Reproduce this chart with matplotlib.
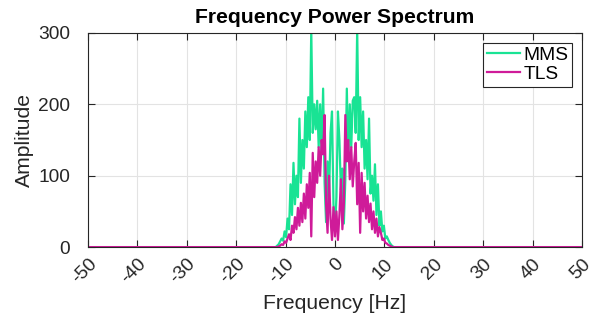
import matplotlib
matplotlib.use("Agg")
import matplotlib.pyplot as plt
import numpy as np

# Frequency grid of the non-zero part (Hz), padded with the flat ends at +-50
freq_core = [
    -12.0, -11.7, -11.4, -11.1, -10.8, -10.5, -10.2, -9.9, -9.6, -9.3,
    -9.0, -8.7, -8.4, -8.1, -7.8, -7.5, -7.2, -6.9, -6.6, -6.3,
    -6.0, -5.7, -5.4, -5.1, -4.8, -4.5, -4.2, -3.9, -3.6, -3.3,
    -3.0, -2.7, -2.4, -2.1, -1.8, -1.5, -1.2, -0.9, -0.6, -0.3,
    0.0, 0.3, 0.6, 0.9, 1.2, 1.5, 1.8, 2.1, 2.4, 2.7,
    3.0, 3.3, 3.6, 3.9, 4.2, 4.5, 4.8, 5.1, 5.4, 5.7,
    6.0, 6.3, 6.6, 6.9, 7.2, 7.5, 7.8, 8.1, 8.4, 8.7,
    9.0, 9.3, 9.6, 9.9, 10.2, 10.5, 10.8, 11.1, 11.4, 11.7,
    12.0,
]

mms_core = [
    0, 2, 4, 8, 12, 9, 22, 14, 40, 25,
    88, 45, 118, 60, 100, 70, 180, 90, 150, 110,
    190, 140, 210, 150, 305, 160, 200, 165, 205, 140,
    200, 130, 222, 90, 35, 120, 70, 160, 190, 60,
    24, 70, 190, 150, 80, 110, 33, 95, 222, 125,
    200, 140, 205, 210, 160, 305, 150, 210, 140, 190,
    110, 150, 95, 180, 75, 100, 65, 116, 45, 88,
    30, 50, 22, 30, 12, 15, 10, 6, 3, 1,
    0,
]

tls_core = [
    0, 0, 1, 2, 4, 3, 8, 6, 12, 18,
    10, 30, 20, 42, 25, 55, 30, 62, 35, 75,
    40, 88, 55, 104, 15, 132, 70, 120, 90, 140,
    100, 150, 130, 185, 60, 20, 100, 40, 10, 56,
    15, 50, 10, 45, 95, 25, 60, 185, 120, 150,
    95, 140, 85, 120, 146, 60, 118, 20, 104, 50,
    90, 40, 72, 35, 61, 25, 50, 20, 40, 15,
    28, 20, 10, 12, 6, 5, 3, 2, 1, 0,
    0,
]

freq = [-50.0] + freq_core + [50.0]
mms = [0] + mms_core + [0]
tls = [0] + tls_core + [0]

x_ticks = list(range(-50, 51, 10))
y_ticks = [0, 100, 200, 300]

color_mms = "#19e394"
color_tls = "#cf1b99"
ax_color = "#262626"

plt.rcParams["font.family"] = ["Liberation Sans", "DejaVu Sans"]

fig = plt.figure(figsize=(6.03, 3.26), dpi=100)
ax = fig.add_axes([0.146, 0.242, 0.819, 0.657])

ax.plot(freq, mms, color=color_mms, lw=1.6, label="MMS")
ax.plot(freq, tls, color=color_tls, lw=1.6, label="TLS")

ax.set_xlim(-50, 50)
ax.set_ylim(0, 300)
ax.set_xticks(x_ticks)
ax.set_yticks(y_ticks)
ax.set_xticklabels([str(t) for t in x_ticks], rotation=45, ha="right",
                   rotation_mode="anchor")

ax.grid(True, color="#e3e3e3", lw=0.8)
ax.set_axisbelow(True)
ax.tick_params(direction="in", top=True, right=True, length=5, width=0.8,
               labelsize=13.8, colors=ax_color)
ax.tick_params(axis="y", pad=13)
ax.tick_params(axis="x", pad=6)

for s in ax.spines.values():
    s.set_color(ax_color)
    s.set_linewidth(0.8)

ax.set_title("Frequency Power Spectrum", fontsize=15.2, fontweight="bold", pad=7)
ax.set_xlabel("Frequency [Hz]", fontsize=15.2, color=ax_color, labelpad=5)
ax.set_ylabel("Amplitude", fontsize=15.2, color=ax_color, labelpad=3)

leg = ax.legend(loc="upper right", fontsize=13.8, frameon=True, fancybox=False,
                handlelength=1.7, handletextpad=0.2, borderpad=0.2,
                labelspacing=0.1, borderaxespad=0.5)
leg.get_frame().set_edgecolor(ax_color)
leg.get_frame().set_linewidth(0.8)
leg.get_frame().set_alpha(1)

fig.savefig("out.png", dpi=100)
